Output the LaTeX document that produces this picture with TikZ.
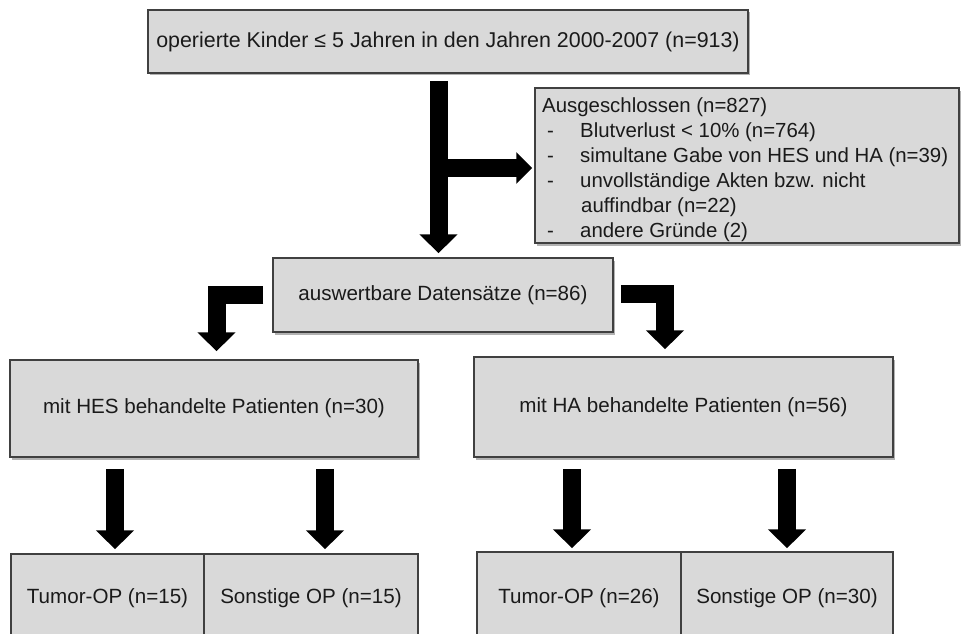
\documentclass[tikz,border=0pt]{standalone}
\usepackage{fontspec}
\setmainfont{Liberation Sans}
\usetikzlibrary{arrows.meta,shadows}
\definecolor{boxfill}{HTML}{D9D9D9}
\definecolor{boxline}{HTML}{404040}
\definecolor{txt}{HTML}{1A1A1A}
\begin{document}
\begin{tikzpicture}[x=1pt,y=-1pt,
  flatbox/.style={draw=boxline, line width=1.5pt, fill=boxfill, inner sep=0pt,
    text=txt, font=\fontsize{20.6}{25}\selectfont},
  box/.style={flatbox, drop shadow={shadow xshift=1.5pt, shadow yshift=-2.5pt, opacity=0.3, fill=black}},
  plaintext/.style={inner sep=0pt, text=txt, font=\fontsize{20.4}{25}\selectfont},
  blockarrow/.style={draw=black, line width=18pt, line join=miter,
    -{Triangle[width=37pt,length=19pt]}},
  sidearrow/.style={draw=black, line width=18pt, -{Triangle[width=31pt,length=16pt]}},
]
\useasboundingbox (0,0) rectangle (961,634);
\clip (0,0) rectangle (961,634);
\fill[white] (0,0) rectangle (961,634);

% boxes
\node[box, minimum width=600pt, minimum height=63pt, font=\fontsize{21.4}{25}\selectfont] (top) at (448,41.5)
  {operierte Kinder ≤ 5 Jahren in den Jahren 2000-2007 (n=913)};
\node[box, minimum width=424pt, minimum height=155pt] (excl) at (747,165.5) {};
\node[plaintext, anchor=west, align=left] (excltxt) at (542,169.5)
  {Ausgeschlossen (n=827)\\
   \makebox[38pt][l]{\hspace{5pt}-}Blutverlust < 10\% (n=764)\\
   \makebox[38pt][l]{\hspace{5pt}-}simultane Gabe von HES und HA (n=39)\\
   \makebox[38pt][l]{\hspace{5pt}-}unvollständige Akten bzw. nicht\\
   \hspace*{39pt}auffindbar (n=22)\\
   \makebox[38pt][l]{\hspace{5pt}-}andere Gründe (2)};
\node[box, minimum width=340pt, minimum height=74pt] (mid) at (443,295)
  {auswertbare Datensätze (n=86)};
\node[box, minimum width=408pt, minimum height=97pt] (hes) at (214,408.5)
  {mit HES behandelte Patienten (n=30)};
\node[box, minimum width=419pt, minimum height=100pt] (ha) at (683.5,407)
  {mit HA behandelte Patienten (n=56)};
\node[flatbox, minimum width=193pt, minimum height=88pt] (bl1) at (107.5,598)
  {Tumor-OP (n=15)};
\node[flatbox, minimum width=214pt, minimum height=88pt] (bl2) at (311,598)
  {Sonstige OP (n=15)};
\node[flatbox, minimum width=204pt, minimum height=92pt] (br1) at (579,598)
  {Tumor-OP (n=26)};
\node[flatbox, minimum width=212pt, minimum height=92pt] (br2) at (787,598)
  {Sonstige OP (n=30)};

% main arrow and branch
\coordinate (mainstart) at ([xshift=-9.5pt,yshift=-7pt]top.south);
\coordinate (mainend) at ([xshift=-4.5pt,yshift=4pt]mid.north);
\coordinate (branch) at (mainstart |- excl.west);
\draw[sidearrow] ([yshift=-2.5pt]branch) -- ([xshift=-2pt,yshift=-2.5pt]excl.west);
\draw[blockarrow] (mainstart) -- (mainend);

% elbow arrows
\draw[blockarrow] ([xshift=-9pt]mid.west) -| ([xshift=2.5pt,yshift=8pt]hes.north);
\draw[blockarrow] ([xshift=7pt,yshift=1.5pt]mid.east) -| ([xshift=-18.5pt,yshift=7pt]ha.north);

% lower arrows
\coordinate (a1) at ([xshift=7.5pt]bl1.north);
\coordinate (a2) at ([xshift=14pt]bl2.north);
\coordinate (a3) at ([xshift=-7pt]br1.north);
\coordinate (a4) at (br2.north);
\draw[blockarrow] (hes.south -| a1) ++(0,11) -- ([yshift=4pt]a1);
\draw[blockarrow] (hes.south -| a2) ++(0,11) -- ([yshift=4pt]a2);
\draw[blockarrow] (ha.south -| a3) ++(0,11) -- ([yshift=3pt]a3);
\draw[blockarrow] (ha.south -| a4) ++(0,11) -- ([yshift=3pt]a4);
\end{tikzpicture}
\end{document}
